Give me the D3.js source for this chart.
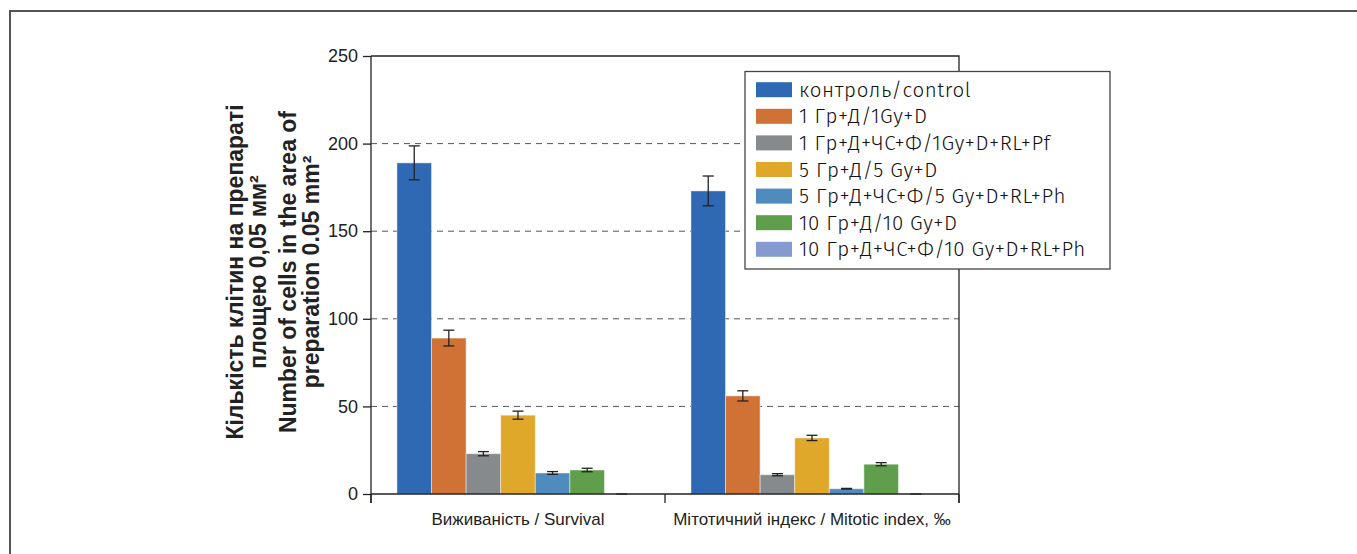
<!DOCTYPE html>
<html><head><meta charset="utf-8">
<script src="https://cdn.jsdelivr.net/npm/d3@7"></script>
<style>
html,body{margin:0;padding:0;background:#fff;}
svg{display:block;}
</style></head>
<body>
<svg id="c" width="1357" height="554"></svg>
<script>
const categories = ["Виживаність / Survival", "Мітотичний індекс / Mitotic index, ‰"];
const series = [
  "контроль/control",
  "1 Гр+Д/1Gy+D",
  "1 Гр+Д+ЧС+Ф/1Gy+D+RL+Pf",
  "5 Гр+Д/5 Gy+D",
  "5 Гр+Д+ЧС+Ф/5 Gy+D+RL+Ph",
  "10 Гр+Д/10 Gy+D",
  "10 Гр+Д+ЧС+Ф/10 Gy+D+RL+Ph"
];
const colors = ["#2f69b3", "#d07236", "#878a8c", "#e0a82a", "#4f8bbd", "#5f9e4a", "#859bd0"];
// values per series: [survival, mitotic index]
const values = [
  [189, 173],
  [89, 56],
  [23, 11],
  [45, 32],
  [12, 3],
  [13.7, 17],
  [0, 0]
];
const errors = [
  [9.7, 8.5],
  [4.5, 2.9],
  [1.2, 0.6],
  [2.3, 1.5],
  [0.8, 0.2],
  [1.0, 0.9],
  [0, 0]
];
const yTicks = [0, 50, 100, 150, 200, 250];
const gridTicks = [50, 100, 150, 200];
const yTitleLines = ["Кількість клітин на препараті", "площею 0,05 мм²", "Number of cells in the area of", "preparation 0.05 mm²"];

const svg = d3.select("#c");
const narrow = "'Liberation Sans Narrow','Arial Narrow','Liberation Sans',sans-serif";
const legendFont = "'Fira Sans','Open Sans','DejaVu Sans Condensed',sans-serif";

// outer frame
svg.append("path").attr("d", "M10,554 L10,11 L1357,11")
  .attr("fill", "none").attr("stroke", "#555").attr("stroke-width", 2);

const L = 371, R = 959, T = 56, B = 494;
const y = d3.scaleLinear().domain([0, 250]).range([B, T]);
const x0 = d3.scaleBand().domain(categories).range([L, R]).padding(0);
const x1 = d3.scaleBand().domain(series).range([0, x0.bandwidth()]).paddingInner(0).paddingOuter(0.75);

// grid
svg.append("g").selectAll("line").data(gridTicks).join("line")
  .attr("x1", L).attr("x2", R).attr("y1", d => y(d)).attr("y2", d => y(d))
  .attr("stroke", "#555").attr("stroke-width", 1).attr("stroke-dasharray", "6,5");

// plot top & right border
svg.append("path").attr("d", `M${L},${y(250)} L${R},${y(250)} L${R},${B + 9}`)
  .attr("fill", "none").attr("stroke", "#222").attr("stroke-width", 1.3);

// bars
const data = [];
categories.forEach((c, ci) => series.forEach((s, si) => data.push({c, s, si, v: values[si][ci], e: errors[si][ci]})));
const gBars = svg.append("g");
gBars.selectAll("rect").data(data).join("rect")
  .attr("x", d => x0(d.c) + x1(d.s))
  .attr("width", x1.bandwidth())
  .attr("y", d => y(d.v))
  .attr("height", d => y(0) - y(d.v))
  .attr("fill", d => colors[d.si])
  .attr("stroke", "rgba(255,255,255,0.45)").attr("stroke-width", 1);

// error bars
const cap = 5.5;
const gErr = svg.append("g").attr("stroke", "#222").attr("stroke-width", 1.3);
data.forEach(d => {
  const cx = x0(d.c) + x1(d.s) + x1.bandwidth() / 2;
  if (d.e > 0) {
    gErr.append("line").attr("x1", cx).attr("x2", cx).attr("y1", y(d.v + d.e)).attr("y2", y(d.v - d.e));
    gErr.append("line").attr("x1", cx - cap).attr("x2", cx + cap).attr("y1", y(d.v + d.e)).attr("y2", y(d.v + d.e));
  }
  gErr.append("line").attr("x1", cx - cap).attr("x2", cx + cap).attr("y1", y(d.v - d.e)).attr("y2", y(d.v - d.e));
});

// y axis
const yAxis = svg.append("g").attr("transform", `translate(${L},0)`)
  .call(d3.axisLeft(y).tickValues(yTicks).tickSize(8).tickPadding(5));
yAxis.select(".domain").remove();
yAxis.selectAll(".tick line").attr("stroke", "#222").attr("stroke-width", 1.3);
yAxis.selectAll(".tick text").attr("font-family", narrow).attr("font-size", 18).attr("fill", "#222");
svg.append("line").attr("x1", L).attr("x2", L).attr("y1", T).attr("y2", B + 9)
  .attr("stroke", "#222").attr("stroke-width", 1.3);

// x axis
svg.append("line").attr("x1", L).attr("x2", R).attr("y1", B).attr("y2", B)
  .attr("stroke", "#222").attr("stroke-width", 1.3);
const bounds = [L].concat(categories.map(c => x0(c) + x0.bandwidth()));
svg.append("g").selectAll("line").data(bounds).join("line")
  .attr("x1", d => d).attr("x2", d => d).attr("y1", B).attr("y2", B + 9)
  .attr("stroke", "#222").attr("stroke-width", 1.3);
const xAxis = svg.append("g").attr("transform", `translate(0,${B})`)
  .call(d3.axisBottom(x0).tickSize(0).tickPadding(19));
xAxis.select(".domain").remove();
xAxis.selectAll(".tick text").attr("font-family", narrow).attr("font-size", 17).attr("fill", "#222");

// y title
const tx = [243, 266, 296, 319];
yTitleLines.forEach((t, i) => {
  svg.append("text").attr("transform", `translate(${tx[i]},272) rotate(-90)`)
    .attr("text-anchor", "middle").attr("font-family", "'Liberation Sans',Arial,sans-serif")
    .attr("font-weight", "bold").attr("font-size", 23).attr("fill", "#222").text(t);
});

// legend
const lg = svg.append("g");
lg.append("rect").attr("x", 745).attr("y", 71.5).attr("width", 365).attr("height", 197.5)
  .attr("fill", "#fff").attr("stroke", "#444").attr("stroke-width", 1.3);
series.forEach((s, i) => {
  const cy = 89.7 + i * 26.6;
  lg.append("rect").attr("x", 756).attr("y", cy - 7.5).attr("width", 36).attr("height", 15).attr("fill", colors[i]);
  lg.append("text").attr("x", 799).attr("y", cy + 7).attr("font-family", legendFont)
    .attr("font-size", 20.5).attr("font-weight", 300).attr("letter-spacing", 0.6)
    .attr("fill", "#111").text(s);
});
</script>
</body></html>
